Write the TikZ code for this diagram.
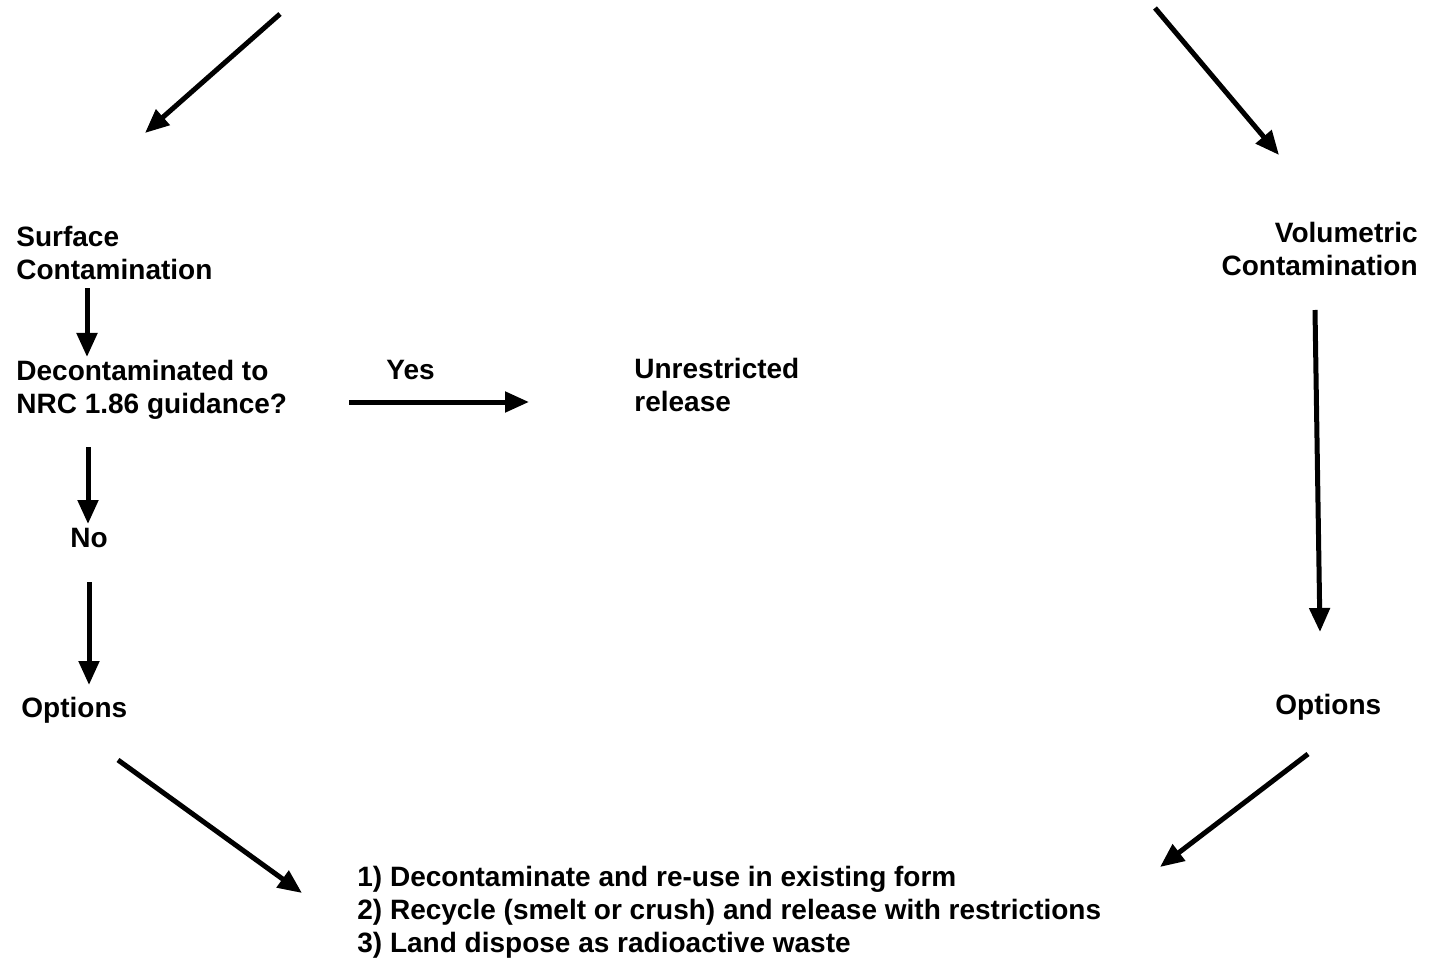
\documentclass[tikz,border=0pt]{standalone}
\usepackage{fontspec}
\setmainfont{Liberation Sans}
\usetikzlibrary{arrows.meta}
\begin{document}
\begin{tikzpicture}[x=0.5pt,y=-0.5pt,
  lbl/.style={inner sep=0pt,font=\bfseries\fontsize{14}{16.5}\selectfont},
  arr/.style={line width=2.5pt,-{Triangle[length=12pt,width=10pt]}}]
\useasboundingbox[fill=white] (0,0) rectangle (1430,968);
% labels
\node[lbl,anchor=north west,align=left] (surf) at (16,226) {Surface\\Contamination};
\node[lbl,anchor=north east,align=right] (vol) at (1418,222) {Volumetric\\Contamination};
\node[lbl,anchor=north west,align=left] (dec) at (16,360) {Decontaminated to\\NRC 1.86 guidance?};
\node[lbl,anchor=north west] (yes) at (386,360) {Yes};
\node[lbl,anchor=north west,align=left] (unr) at (634,358) {Unrestricted\\release};
\node[lbl,anchor=north] (no) at (89,528) {No};
\node[lbl,anchor=north west] (optl) at (21,697) {Options};
\node[lbl,anchor=north west] (optr) at (1275,694) {Options};
\node[lbl,anchor=north west,align=left] (list) at (357,866)
  {1) Decontaminate and re-use in existing form\\
   2) Recycle (smelt or crush) and release with restrictions\\
   3) Land dispose as radioactive waste};
% arrow end points
\coordinate (tl0) at (280,14);  \coordinate (tl1) at (145,133);
\coordinate (tr0) at (1155,8);  \coordinate (tr1) at (1279,155);
\coordinate (s0) at (87,290);   \coordinate (s1) at (87,357);
\coordinate (y0) at (349,402);  \coordinate (y1) at (529,402);
\coordinate (n0) at (88,447);   \coordinate (n1) at (88,524);
\coordinate (o0) at (89,582);   \coordinate (o1) at (89,685);
\coordinate (v0) at (1315,310); \coordinate (v1) at (1320,632);
\coordinate (bl0) at (118,760); \coordinate (bl1) at (302,893);
\coordinate (br0) at (1308,754);\coordinate (br1) at (1160,867);
% connectors
\draw[arr] (tl0) -- (tl1);
\draw[arr] (tr0) -- (tr1);
\draw[arr] (surf.south -| s0) ++(0,8) -- (s1);
\draw[arr] (y0) -- (y1);
\draw[arr] (n0) -- (n1);
\draw[arr] (o0) -- (o1);
\draw[arr] (v0) -- (v1);
\draw[arr] (bl0) -- (bl1);
\draw[arr] (br0) -- (br1);
\end{tikzpicture}
\end{document}
